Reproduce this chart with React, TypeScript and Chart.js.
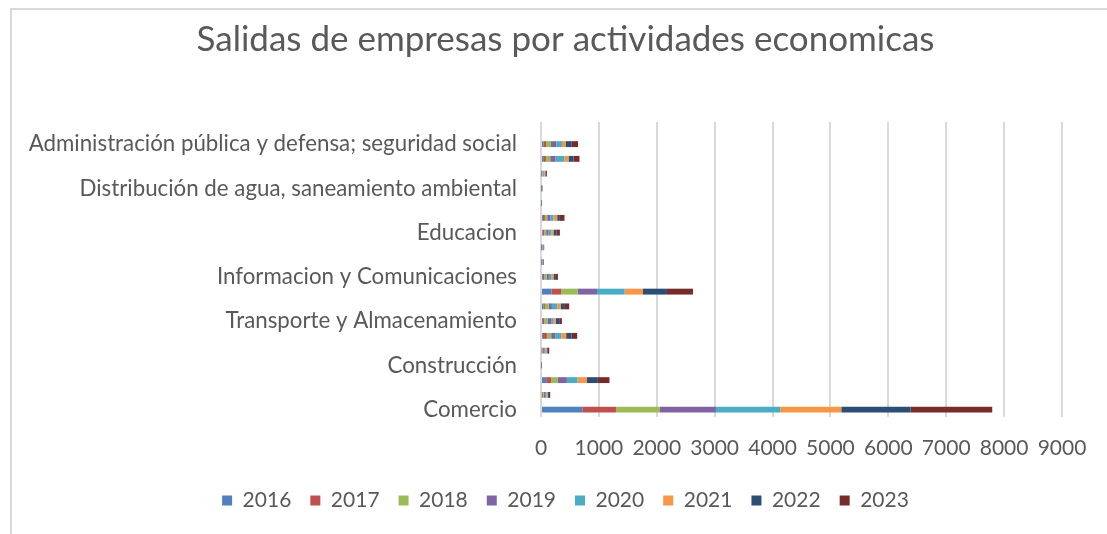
import React, { useEffect, useRef } from 'react';
import { Chart, registerables } from 'chart.js';

Chart.register(...registerables);

// Categories listed top to bottom as they appear in the chart
const categories = [
  'Actividades de organizaciones extraterritoriales',
  'Administración pública y defensa; seguridad social',
  'Otras actividades de servicios',
  'Artes, entretenimiento y recreación',
  'Distribución de agua, saneamiento ambiental',
  'Suministro de electricidad, gas y vapor',
  'Actividades de atención de la salud humana',
  'Educacion',
  'Explotación de minas y canteras',
  'Actividades inmobiliarias',
  'Informacion y Comunicaciones',
  'Actividades profesionales, científicas y técnicas',
  'Actividades de servicios administrativos y de apoyo',
  'Transporte y Almacenamiento',
  'Alojamiento y servicios de comida',
  'Actividades financieras y de seguros',
  'Construcción',
  'Industrias manufactureras',
  'Agricultura, ganadería, silvicultura y pesca',
  'Comercio',
];

// Only every third category (counted from the bottom) carries a visible label
const shownLabels = [
  'Administración pública y defensa; seguridad social',
  'Distribución de agua, saneamiento ambiental',
  'Educacion',
  'Informacion y Comunicaciones',
  'Transporte y Almacenamiento',
  'Construcción',
  'Comercio',
];

const years = ['2016', '2017', '2018', '2019', '2020', '2021', '2022', '2023'];

const v2016 = [0, 40, 38, 8, 3, 2, 32, 26, 5, 5, 32, 180, 43, 32, 32, 12, 2, 90, 15, 713];
const v2017 = [0, 47, 47, 10, 4, 2, 35, 29, 6, 5, 23, 170, 24, 23, 70, 10, 2, 86, 16, 582];
const v2018 = [0, 86, 74, 12, 4, 2, 40, 35, 6, 6, 40, 287, 63, 57, 74, 14, 2, 116, 18, 760];
const v2019 = [0, 92, 91, 14, 5, 2, 52, 40, 7, 6, 41, 330, 58, 64, 69, 18, 2, 155, 20, 967];
const v2020 = [0, 98, 151, 14, 4, 2, 57, 46, 7, 6, 40, 479, 92, 40, 104, 20, 2, 184, 22, 1111];
const v2021 = [0, 69, 74, 16, 5, 2, 64, 40, 8, 7, 40, 316, 64, 41, 86, 22, 2, 162, 22, 1054];
const v2022 = [0, 99, 86, 12, 4, 2, 46, 52, 8, 7, 41, 414, 69, 57, 92, 20, 2, 190, 24, 1198];
const v2023 = [0, 108, 104, 16, 4, 1, 80, 58, 8, 8, 35, 449, 74, 47, 98, 26, 1, 200, 22, 1410];

const seriesValues = [v2016, v2017, v2018, v2019, v2020, v2021, v2022, v2023];

const colors = ['#4F81BD', '#C0504D', '#9BBB59', '#8064A2', '#4BACC6', '#F79646', '#2C4D75', '#772C2A'];

const xTicks = [0, 1000, 2000, 3000, 4000, 5000, 6000, 7000, 8000, 9000];

const FONT = 'Lato, "Open Sans", sans-serif';
const TEXT = '#595959';

export default function App() {
  const ref = useRef<HTMLCanvasElement | null>(null);

  useEffect(() => {
    if (!ref.current) return;
    const chart = new Chart(ref.current, {
      type: 'bar',
      data: {
        labels: categories,
        datasets: seriesValues.map((vals, i) => ({
          label: years[i],
          data: vals,
          backgroundColor: colors[i],
          borderWidth: 0,
          barPercentage: 0.4,
          categoryPercentage: 1,
        })),
      },
      options: {
        indexAxis: 'y',
        animation: false,
        responsive: false,
        maintainAspectRatio: false,
        layout: { padding: { left: 12, right: 0, top: 0, bottom: 13 } },
        plugins: {
          title: {
            display: true,
            text: 'Salidas de empresas por actividades economicas',
            color: TEXT,
            font: { family: FONT, size: 35, weight: 'normal' },
            padding: { top: 9, bottom: 61 },
          },
          legend: {
            position: 'bottom',
            labels: {
              color: TEXT,
              font: { family: FONT, size: 21 },
              boxWidth: 10,
              boxHeight: 10,
              padding: 19,
            },
          },
          tooltip: { enabled: false },
        },
        scales: {
          x: {
            stacked: true,
            min: 0,
            max: 9000,
            afterBuildTicks: (scale: any) => {
              scale.ticks = xTicks.map((v) => ({ value: v }));
            },
            afterFit: (scale: any) => {
              scale.height = 54;
            },
            grid: { color: '#d9d9d9', lineWidth: 2, drawTicks: false },
            border: { display: false },
            ticks: {
              color: TEXT,
              font: { family: FONT, size: 21 },
              padding: 19,
              maxRotation: 0,
              autoSkip: false,
              callback: (v: any) => String(v),
            },
          },
          y: {
            stacked: true,
            afterFit: (scale: any) => {
              scale.width = 517;
            },
            grid: { display: false, drawTicks: false },
            border: { display: false },
            ticks: {
              color: TEXT,
              font: { family: FONT, size: 22.3 },
              padding: 24,
              autoSkip: false,
              callback: (_v: any, index: number) =>
                shownLabels.includes(categories[index]) ? categories[index] : '',
            },
          },
          yRight: {
            type: 'category',
            position: 'right',
            display: true,
            grid: { display: false, drawTicks: false },
            border: { display: false },
            ticks: { display: false },
            afterFit: (scale: any) => {
              scale.width = 45;
            },
          },
        },
      },
    });
    return () => chart.destroy();
  }, []);

  return (
    <div
      style={{
        position: 'fixed',
        left: 10,
        top: 8,
        width: 1097,
        height: 526,
        borderTop: '2px solid #d9d9d9',
        borderLeft: '2px solid #d9d9d9',
        boxSizing: 'border-box',
        background: '#ffffff',
      }}
    >
      <canvas ref={ref} width={1095} height={524} style={{ display: 'block' }} />
    </div>
  );
}
